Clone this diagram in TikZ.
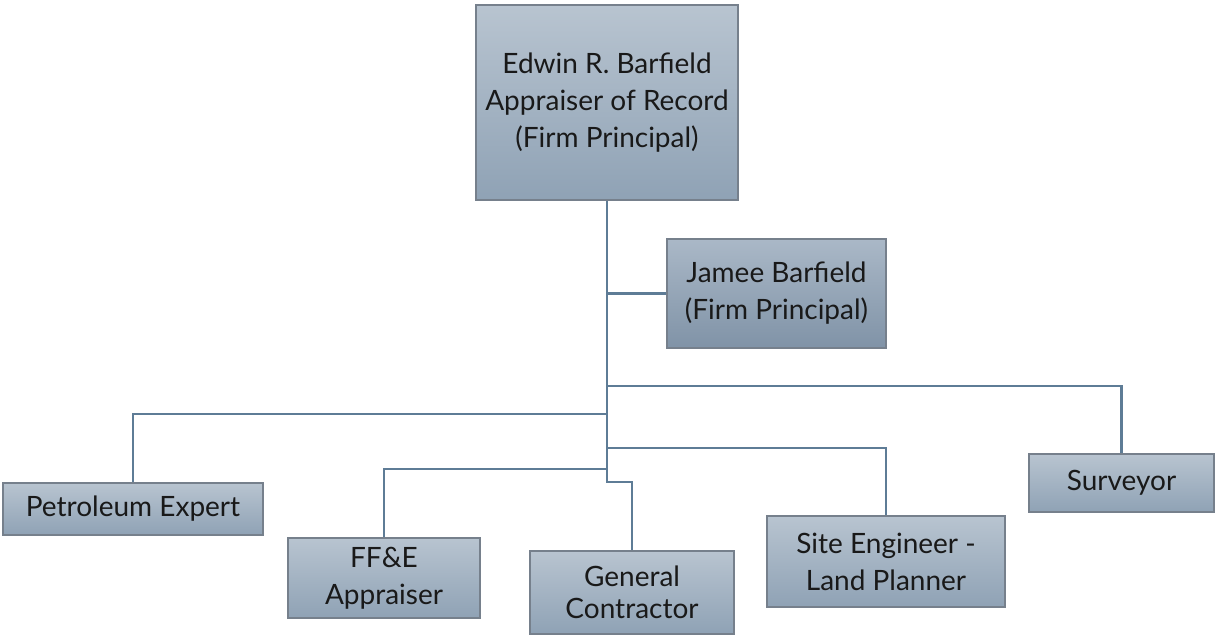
\documentclass[tikz,border=0pt]{standalone}
\usepackage{fontspec}
\setmainfont{Lato}
\definecolor{boxtop}{RGB}{184,196,208}
\definecolor{boxbot}{RGB}{143,162,181}
\definecolor{jtop}{RGB}{170,184,199}
\definecolor{jbot}{RGB}{128,147,167}
\definecolor{boxline}{RGB}{118,128,140}
\definecolor{connc}{RGB}{94,124,150}
\tikzset{
  orgbox/.style={draw=boxline, line width=0.8pt, top color=boxtop, bottom color=boxbot,
    align=center, inner sep=0pt, text=black!90, font=\fontsize{21}{27.75}\selectfont},
  conn/.style={draw=connc, line width=1.6pt}
}
\begin{document}
\begin{tikzpicture}[x=0.75pt,y=-0.75pt]
\useasboundingbox (0,0) rectangle (1215,635);
\node[orgbox, minimum width=196.5pt, minimum height=146.25pt] (edwin) at (607,102.5)
  {Edwin R. Barfield\\Appraiser of Record\\(Firm Principal)};
\node[orgbox, top color=jtop, bottom color=jbot, minimum width=164.25pt, minimum height=81.75pt] (jamee) at (776.5,293.5)
  {Jamee Barfield\\(Firm Principal)};
\node[orgbox, minimum width=195pt, minimum height=39pt] (pet) at (133,509) {Petroleum Expert};
\node[orgbox, minimum width=144pt, minimum height=60pt] (ffe) at (384,578) {FF\&E\\Appraiser};
\node[orgbox, minimum width=153pt, minimum height=62.25pt, font=\fontsize{21}{24}\selectfont] (gc) at (632,592.5) {General\\Contractor};
\node[orgbox, minimum width=178.5pt, minimum height=68.25pt] (site) at (886,561.5) {Site Engineer -\\Land Planner};
\node[orgbox, minimum width=138.75pt, minimum height=43.5pt] (surv) at (1121.5,483) {Surveyor};

\coordinate (bsurv) at (607,386);
\coordinate (bpet) at (607,414);
\coordinate (bsite) at (607,448);
\coordinate (bffe) at (607,469);
\coordinate (bgc) at (607,482);

\draw[conn] (edwin.south) -- (bgc) -| (gc.north);
\draw[conn] (edwin.south |- jamee.west) -- (jamee.west);
\draw[conn] (bsurv) -| (surv.north);
\draw[conn] (bpet) -| (pet.north);
\draw[conn] (bsite) -| (site.north);
\draw[conn] (bffe) -| (ffe.north);
\end{tikzpicture}
\end{document}
